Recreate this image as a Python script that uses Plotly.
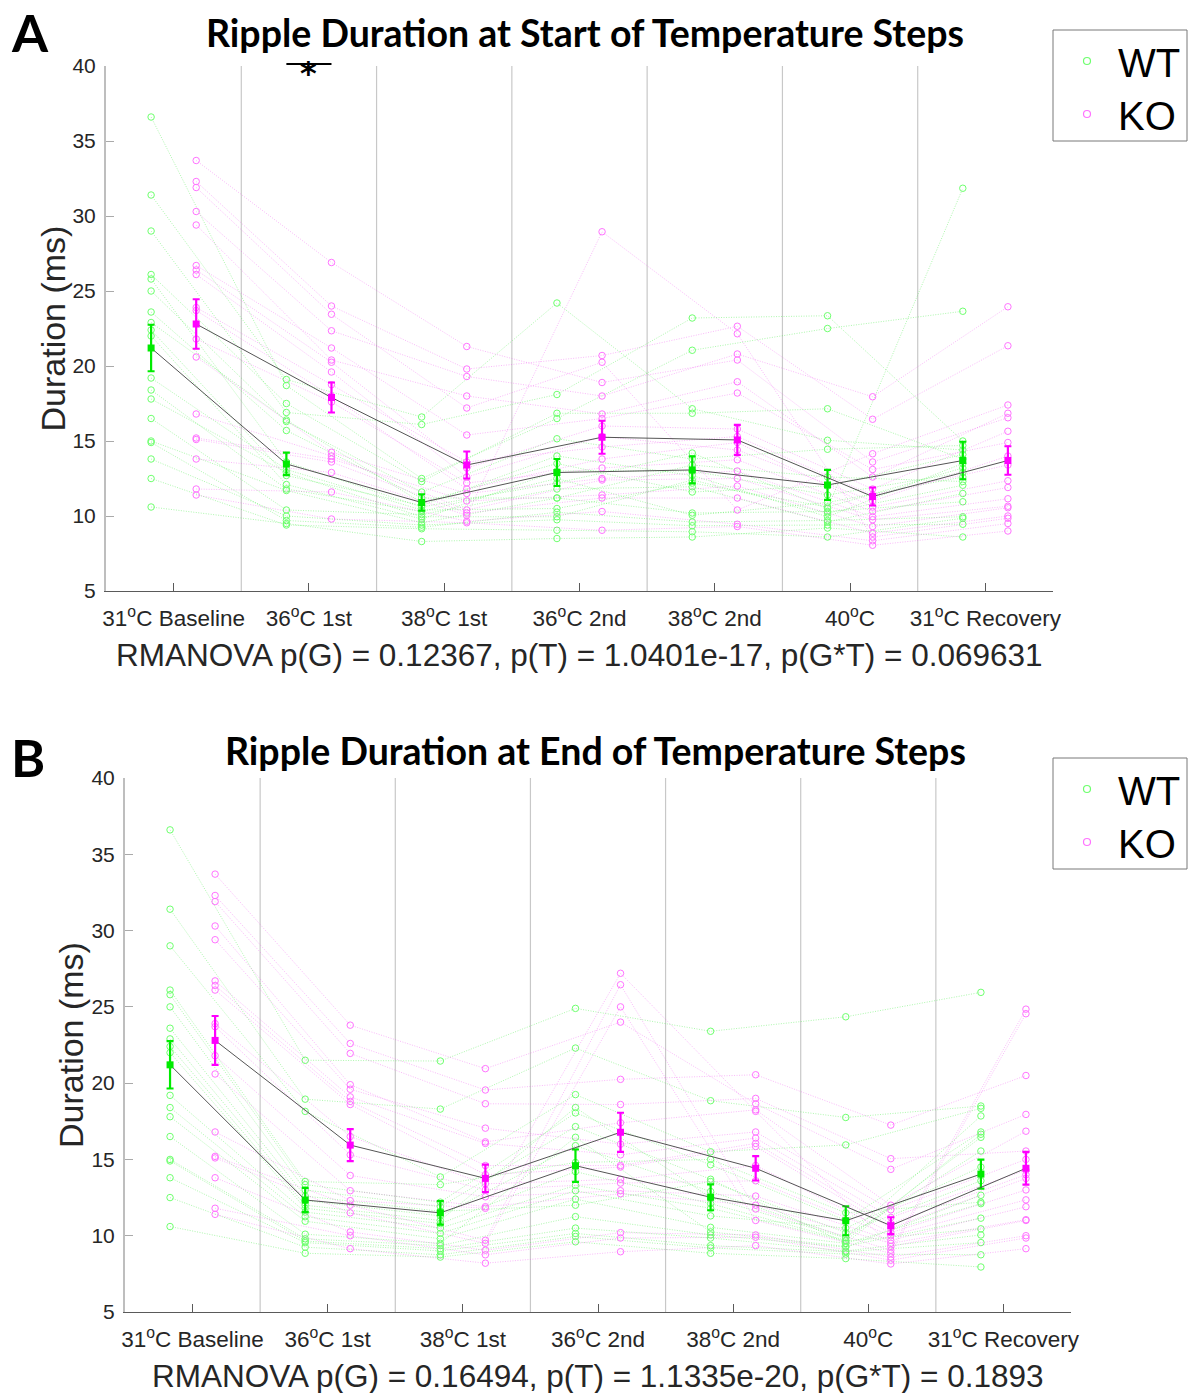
import plotly.graph_objects as go

W, H = 1191, 1393

# ---------------- data ----------------
conditions = ["31<sup>o</sup>C Baseline", "36<sup>o</sup>C 1st", "38<sup>o</sup>C 1st",
              "36<sup>o</sup>C 2nd", "38<sup>o</sup>C 2nd", "40<sup>o</sup>C",
              "31<sup>o</sup>C Recovery"]
y_ticks = [5, 10, 15, 20, 25, 30, 35, 40]

# Panel A: start of temperature steps (one row per animal, one value per condition)
wt_start = [
    [36.6, 18.7, 12.5, 16.5, 21.05, 22.5, 23.65],
    [31.4, 19.1, 16.6, 24.2, 17.15, 15.05, 14.4],
    [29.0, 16.9, 16.1, 18.1, 23.2, 23.35, 15.0],
    [26.1, 17.5, 12.3, 16.85, 16.85, 17.15, 13.8],
    [25.8, 13.6, 10.6, 12.2, 14.2, 10.5, 31.85],
    [25.0, 16.3, 11.6, 15.15, 13.8, 14.45, 14.7],
    [23.6, 15.7, 11.2, 11.2, 13.4, 12.6, 12.3],
    [22.9, 16.4, 10.9, 13.5, 11.6, 12.0, 14.1],
    [22.4, 12.7, 10.7, 14.0, 12.7, 9.95, 13.5],
    [22.0, 12.1, 9.8, 13.0, 13.0, 11.4, 12.9],
    [19.2, 13.1, 10.4, 10.5, 12.2, 10.6, 13.2],
    [18.4, 11.8, 10.3, 12.5, 10.05, 10.9, 12.6],
    [17.8, 12.9, 9.95, 9.95, 12.4, 10.2, 12.05],
    [16.5, 10.4, 10.1, 11.8, 11.95, 9.6, 11.5],
    [15.0, 11.7, 9.55, 11.2, 10.2, 10.3, 10.95],
    [14.9, 9.7, 9.25, 10.25, 9.6, 9.7, 9.95],
    [13.8, 10.0, 9.4, 9.75, 9.35, 9.4, 9.45],
    [12.5, 9.4, 9.15, 9.05, 8.95, 8.6, 9.85],
    [10.6, 9.5, 8.3, 8.5, 8.6, 9.2, 8.6],
]
ko_start = [
    [33.7, 26.9, 21.3, 18.9, 20.4, 13.6, 16.55],
    [32.3, 24.0, 19.8, 20.7, 22.65, 16.45, 21.35],
    [31.9, 23.45, 17.2, 20.25, 10.4, 14.15, 17.4],
    [30.3, 22.35, 19.3, 18.0, 20.8, 17.95, 23.95],
    [29.4, 20.4, 18.0, 16.8, 18.95, 12.6, 16.85],
    [26.7, 21.2, 15.4, 16.5, 18.2, 13.1, 14.9],
    [26.4, 20.25, 13.2, 16.0, 15.8, 11.8, 15.65],
    [26.1, 19.6, 12.6, 15.3, 14.4, 11.0, 14.0],
    [23.9, 18.75, 13.6, 14.6, 15.3, 11.4, 13.4],
    [23.7, 18.0, 11.8, 13.8, 14.9, 10.6, 12.35],
    [21.8, 17.6, 12.2, 13.2, 13.75, 10.3, 11.9],
    [20.6, 14.25, 11.5, 12.5, 13.0, 9.95, 11.15],
    [16.8, 14.0, 10.4, 12.4, 12.5, 9.75, 10.65],
    [15.2, 13.8, 11.0, 11.4, 12.0, 9.3, 10.55],
    [15.1, 13.6, 10.2, 11.2, 11.2, 8.85, 10.0],
    [13.8, 12.9, 10.05, 28.95, 22.15, 8.6, 9.85],
    [11.8, 11.6, 9.65, 10.3, 9.45, 8.35, 9.5],
    [11.4, 9.8, 9.55, 9.05, 9.3, 8.05, 9.0],
]
wt_start_mean = [21.2, 13.47, 10.9, 12.9, 13.07, 12.07, 13.7]
wt_start_sem = [1.55, 0.75, 0.55, 0.9, 0.9, 1.0, 1.25]
ko_start_mean = [22.8, 17.9, 13.4, 15.25, 15.07, 11.3, 13.7]
ko_start_sem = [1.65, 1.0, 0.9, 1.1, 1.0, 0.6, 0.95]

# Panel B: end of temperature steps
wt_end = [
    [36.6, 21.5, 21.45, 24.9, 23.4, 24.35, 25.95],
    [31.4, 18.95, 18.3, 22.3, 18.85, 17.75, 18.5],
    [29.0, 18.15, 13.85, 19.25, 15.5, 15.95, 18.35],
    [26.1, 13.55, 13.35, 14.8, 15.0, 11.5, 12.2],
    [25.8, 13.35, 12.2, 18.05, 14.65, 11.0, 16.8],
    [25.0, 13.0, 11.9, 17.15, 13.7, 9.5, 16.65],
    [23.6, 12.6, 11.6, 12.0, 13.55, 10.2, 13.6],
    [22.9, 12.3, 11.3, 15.9, 12.9, 9.9, 15.55],
    [22.4, 12.0, 11.0, 18.4, 12.5, 9.85, 17.85],
    [22.0, 11.8, 10.8, 14.2, 12.1, 9.7, 16.45],
    [19.2, 11.55, 10.5, 13.3, 11.8, 9.65, 10.45],
    [18.4, 11.25, 10.15, 12.95, 11.3, 10.5, 14.5],
    [17.8, 10.95, 9.8, 12.4, 10.55, 9.5, 12.1],
    [16.5, 10.1, 9.5, 16.45, 10.25, 9.3, 11.15],
    [15.0, 9.8, 9.35, 11.25, 10.05, 9.25, 12.65],
    [14.9, 9.65, 9.15, 10.5, 9.85, 9.0, 10.05],
    [13.8, 9.55, 9.0, 10.15, 9.35, 8.95, 9.55],
    [12.5, 9.25, 8.75, 9.95, 9.2, 8.8, 8.75],
    [10.6, 8.85, 8.6, 9.6, 8.85, 8.5, 7.95],
]
ko_end = [
    [33.7, 23.8, 20.95, 24.0, 18.65, 14.35, 17.95],
    [32.3, 22.6, 19.55, 20.25, 20.55, 17.25, 20.5],
    [31.9, 21.95, 18.65, 18.6, 19.0, 15.05, 15.55],
    [30.3, 19.9, 16.15, 17.4, 18.25, 12.0, 16.85],
    [29.4, 19.6, 17.05, 16.0, 16.8, 11.7, 15.0],
    [26.7, 19.1, 16.05, 15.3, 16.4, 11.2, 14.3],
    [26.4, 18.8, 14.6, 14.6, 16.05, 10.8, 14.0],
    [26.1, 18.6, 14.0, 14.5, 15.85, 10.5, 13.75],
    [23.9, 16.5, 13.4, 13.7, 14.6, 10.2, 13.0],
    [23.7, 15.3, 13.0, 13.45, 13.6, 10.0, 12.35],
    [21.8, 13.95, 12.55, 12.95, 12.6, 9.7, 11.9],
    [20.6, 12.95, 11.9, 12.75, 12.0, 9.5, 11.05],
    [16.8, 12.3, 11.8, 27.2, 18.15, 9.3, 11.0],
    [15.2, 12.0, 9.7, 26.45, 11.75, 9.05, 24.85],
    [15.1, 11.5, 9.5, 25.0, 11.0, 8.85, 24.55],
    [13.8, 10.25, 9.05, 10.2, 10.05, 8.6, 10.0],
    [11.8, 10.0, 8.75, 9.85, 9.9, 8.4, 9.85],
    [11.4, 9.15, 8.2, 8.95, 9.35, 8.15, 9.15],
]
wt_end_mean = [21.2, 12.34, 11.5, 14.59, 12.52, 10.98, 14.04]
wt_end_sem = [1.55, 0.8, 0.77, 1.06, 0.85, 0.95, 0.95]
ko_end_mean = [22.8, 15.94, 13.76, 16.78, 14.42, 10.66, 14.42]
ko_end_sem = [1.6, 1.05, 0.9, 1.28, 0.8, 0.55, 1.07]

titles = ["Ripple Duration at Start of Temperature Steps",
          "Ripple Duration at End of Temperature Steps"]
stats = ["RMANOVA p(G) = 0.12367, p(T) = 1.0401e-17, p(G*T) = 0.069631",
         "RMANOVA p(G) = 0.16494, p(T) = 1.1335e-20, p(G*T) = 0.1893"]
panel_letters = ["A", "B"]
groups = ["WT", "KO"]
sig_A = [1]  # condition index with a significant WT vs KO difference in panel A

# ---------------- style ----------------
WT_OFF, KO_OFF = 1 / 3, 2 / 3
WT_PT = "rgb(110,255,110)"
KO_PT = "rgb(255,115,255)"
WT_LN = "rgba(60,235,60,0.42)"
KO_LN = "rgba(240,70,240,0.38)"
WT_MEAN = "rgb(0,235,0)"
KO_MEAN = "rgb(255,0,255)"
TXT = "#262626"
SANS = "Liberation Sans, Arial, sans-serif"
TITLE_FONT = "Lato, Open Sans, sans-serif"

def px(x):
    return x / W

def py(y):
    return 1 - y / H

# plot areas in pixels: (left, right, top, bottom)
areas = [(106, 1053, 66, 591), (125, 1071, 778, 1312)]
title_pos = [(585, 32), (595, 750)]
letter_pos = [(9, 32.5), (9, 757)]
legend_top = [30, 758]

fig = go.Figure()
panel_data = [
    (wt_start, ko_start, wt_start_mean, wt_start_sem, ko_start_mean, ko_start_sem),
    (wt_end, ko_end, wt_end_mean, wt_end_sem, ko_end_mean, ko_end_sem),
]
n = len(conditions)
shapes = []
annotations = []

for p, (wt, ko, wm, ws, km, ks) in enumerate(panel_data):
    xa = "x" if p == 0 else "x2"
    ya = "y" if p == 0 else "y2"
    xw = [i + WT_OFF for i in range(n)]
    xk = [i + KO_OFF for i in range(n)]
    for rows, xs, pc, lc in [(wt, xw, WT_PT, WT_LN), (ko, xk, KO_PT, KO_LN)]:
        for r in rows:
            fig.add_trace(go.Scatter(
                x=xs, y=r, xaxis=xa, yaxis=ya, mode="lines+markers",
                line=dict(color=lc, width=1, dash="1px,1.5px"),
                marker=dict(symbol="circle-open", size=6.5, color=pc, line=dict(width=1, color=pc)),
                showlegend=False, hoverinfo="skip"))
    for xs, m, s, c in [(xw, wm, ws, WT_MEAN), (xk, km, ks, KO_MEAN)]:
        fig.add_trace(go.Scatter(x=xs, y=m, xaxis=xa, yaxis=ya, mode="lines",
                                 line=dict(color="rgb(85,85,85)", width=1),
                                 showlegend=False, hoverinfo="skip"))
        fig.add_trace(go.Scatter(x=xs, y=m, xaxis=xa, yaxis=ya, mode="markers",
                                 marker=dict(symbol="square", size=7, color=c),
                                 error_y=dict(type="data", array=s, color=c, thickness=2.2, width=3.5),
                                 showlegend=False))
    # vertical dividers between conditions
    for k in range(1, n):
        shapes.append(dict(type="line", xref=xa, yref=ya + " domain", x0=k, x1=k, y0=0, y1=1,
                           line=dict(color="rgb(200,200,200)", width=1.2), layer="below"))

    l, r_, t, b = areas[p]
    cx = (l + r_) / 2
    cy = (t + b) / 2
    tx, ty = title_pos[p]
    annotations.append(dict(text="<b>%s</b>" % titles[p], xref="paper", yref="paper",
                            x=px(tx), y=py(ty), xanchor="center", yanchor="middle",
                            showarrow=False, font=dict(family=TITLE_FONT, size=37.5, color="black")))
    lx, ly = letter_pos[p]
    annotations.append(dict(text="<b>%s</b>" % panel_letters[p], xref="paper", yref="paper",
                            x=px(lx), y=py(ly), xanchor="left", yanchor="middle",
                            showarrow=False, font=dict(family=TITLE_FONT, size=52, color="black")))
    annotations.append(dict(text=stats[p], xref="paper", yref="paper",
                            x=px(cx), y=py(b + 64), xanchor="center", yanchor="middle",
                            showarrow=False, font=dict(family=SANS, size=31.5, color=TXT)))
    annotations.append(dict(text="Duration (ms)", xref="paper", yref="paper",
                            x=px(l - 54), y=py(cy), xanchor="center", yanchor="middle",
                            textangle=-90, showarrow=False,
                            font=dict(family=SANS, size=34, color=TXT)))
    # legend box
    lt = legend_top[p]
    shapes.append(dict(type="rect", xref="paper", yref="paper",
                       x0=px(1053), x1=px(1187), y0=py(lt), y1=py(lt + 111),
                       line=dict(color="rgb(120,120,120)", width=1), fillcolor="white"))
    for j, (g, c) in enumerate(zip(groups, [WT_PT, KO_PT])):
        yy = lt + 31 + j * 53
        shapes.append(dict(type="circle", xref="paper", yref="paper",
                           x0=px(1083.5), x1=px(1090.5), y0=py(yy - 3.5), y1=py(yy + 3.5),
                           line=dict(color=c, width=1.2)))
        annotations.append(dict(text=g, xref="paper", yref="paper", x=px(1116), y=py(yy + 2),
                                xanchor="left", yanchor="middle", showarrow=False,
                                font=dict(family=SANS, size=40, color="black")))

# significance marker (panel A): bar between WT and KO positions plus asterisk, just above the axes
for ci in sig_A:
    l, r_, t, b = areas[0]
    shapes.append(dict(type="line", xref="x", yref="paper", x0=ci + WT_OFF, x1=ci + KO_OFF,
                       y0=py(t - 2), y1=py(t - 2), line=dict(color="black", width=2)))
    annotations.append(dict(text="<b>*</b>", xref="x", yref="paper", x=ci + 0.5, y=py(t + 6.5),
                            xanchor="center", yanchor="middle", showarrow=False, borderpad=0,
                            font=dict(family="DejaVu Sans, sans-serif", size=32, color="black")))

def xaxis_cfg(p):
    l, r_, t, b = areas[p]
    return dict(domain=[px(l), px(r_)], range=[0, n], tickvals=[i + 0.5 for i in range(n)],
                ticktext=conditions, ticks="inside", ticklen=8, tickcolor="rgb(90,90,90)",
                showline=True, linecolor="rgb(90,90,90)", linewidth=1.2, showgrid=False,
                zeroline=False, tickfont=dict(family=SANS, size=22.5, color=TXT),
                ticklabelstandoff=7, automargin=False,
                anchor="y" if p == 0 else "y2", fixedrange=True)

def yaxis_cfg(p):
    l, r_, t, b = areas[p]
    return dict(domain=[py(b), py(t)], range=[5, 40], tickvals=y_ticks,
                ticks="inside", ticklen=8, tickcolor="rgb(170,170,170)",
                showline=True, linecolor="rgb(190,190,190)", linewidth=2, showgrid=False,
                zeroline=False, tickfont=dict(family=SANS, size=21, color=TXT),
                ticklabelstandoff=4, automargin=False,
                anchor="x" if p == 0 else "x2", fixedrange=True)

fig.update_layout(
    width=W, height=H, margin=dict(l=0, r=0, t=0, b=0, autoexpand=False),
    paper_bgcolor="white", plot_bgcolor="white", showlegend=False,
    xaxis=xaxis_cfg(0), yaxis=yaxis_cfg(0), xaxis2=xaxis_cfg(1), yaxis2=yaxis_cfg(1),
    shapes=shapes, annotations=annotations,
)

fig.write_html("out.html")
